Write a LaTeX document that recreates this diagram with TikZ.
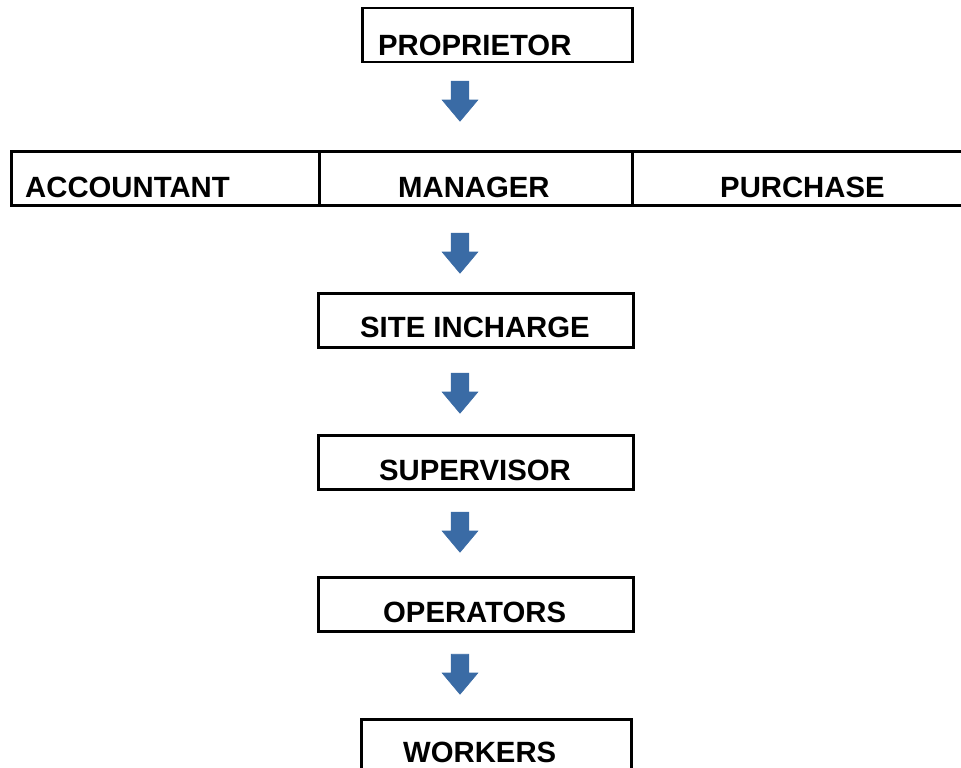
\documentclass[tikz,border=0pt]{standalone}
\usepackage{fontspec}
\setmainfont{Liberation Sans}
\usetikzlibrary{shapes.arrows}

\definecolor{arrowdark}{HTML}{3A6BA5}
\definecolor{arrowlight}{HTML}{5B93D8}

\tikzset{
  box/.style={draw=black, line width=2.5pt, rectangle, inner sep=0pt, minimum height=54pt, anchor=north west},
  lbl/.style={anchor=base west, inner sep=0pt, font=\fontsize{29.3pt}{33pt}\selectfont\bfseries},
  downarrow/.style={single arrow, shape border rotate=270, inner sep=8.5pt, minimum height=40pt,
    single arrow head extend=9pt, single arrow tip angle=80, draw=arrowdark, line width=0.6pt,
    left color=arrowdark, middle color=arrowlight, right color=arrowdark}
}

\begin{document}
\begin{tikzpicture}[x=1pt,y=-1pt]
\useasboundingbox (0,0) rectangle (961,768);

% Draw the boxes and insert the names
\node[box, minimum width=270pt] (prop) at (361,7) {};
\node[lbl] (propT) at (378,56) {PROPRIETOR};
\node[box, minimum width=308pt] (acc) at (10,150) {};
\node[lbl] (accT) at (25,197) {ACCOUNTANT};
\node[box, minimum width=313pt] (man) at (318,150) {};
\node[lbl] (manT) at (398,197) {MANAGER};
\node[box, minimum width=345pt] (pur) at (631,150) {};
\node[lbl] (purT) at (720,197) {PURCHASE};
\node[box, minimum width=315pt] (site) at (317,292) {};
\node[lbl] (siteT) at (360,337) {SITE INCHARGE};
\node[box, minimum width=315pt] (sup) at (317,434) {};
\node[lbl] (supT) at (379,480) {SUPERVISOR};
\node[box, minimum width=315pt] (oper) at (317,576) {};
\node[lbl] (operT) at (383,622) {OPERATORS};
\node[box, minimum width=270pt] (work) at (360,718) {};
\node[lbl] (workT) at (403,762) {WORKERS};

% Arrows between the levels
\node[downarrow] (a1) at (460,96) {};
\node[downarrow] (a2) at (460,248) {};
\node[downarrow] (a3) at (460,388) {};
\node[downarrow] (a4) at (460,527) {};
\node[downarrow] (a5) at (460,669) {};
\end{tikzpicture}
\end{document}
